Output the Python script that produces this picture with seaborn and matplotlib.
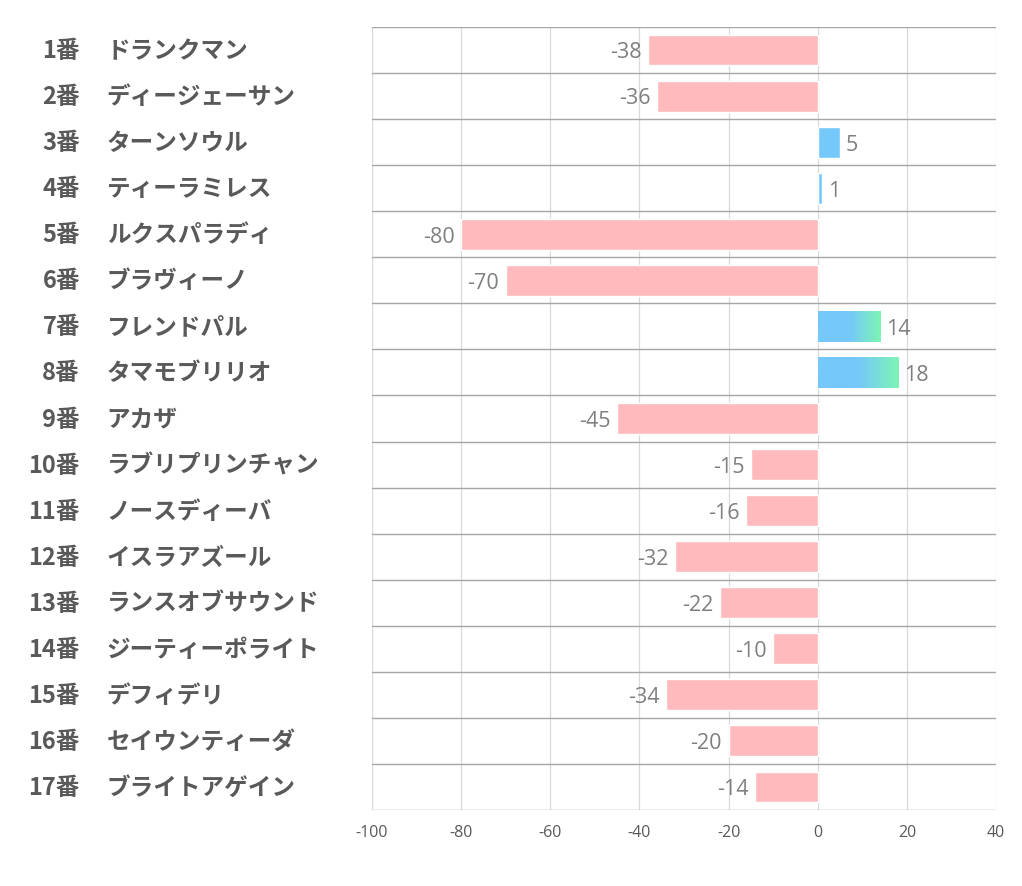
import matplotlib
matplotlib.use("Agg")
import matplotlib.pyplot as plt
import numpy as np
import pandas as pd
import seaborn as sns
from matplotlib.colors import LinearSegmentedColormap

numbers = [f"{i}番" for i in range(1, 18)]
names = [
    "ドランクマン", "ディージェーサン", "ターンソウル", "ティーラミレス",
    "ルクスパラディ", "ブラヴィーノ", "フレンドパル", "タマモブリリオ",
    "アカザ", "ラブリプリンチャン", "ノースディーバ", "イスラアズール",
    "ランスオブサウンド", "ジーティーポライト", "デフィデリ", "セイウンティーダ",
    "ブライトアゲイン",
]
values = [-38, -36, 5, 1, -80, -70, 14, 18, -45, -15, -16, -32, -22, -10, -34, -20, -14]
gradient_rows = [6, 7]  # 7番, 8番 drawn with blue->green fill
x_ticks = [-100, -80, -60, -40, -20, 0, 20, 40]

PINK = "#FFBABD"
BLUE = "#75C8FA"
GREEN = "#7DF5B4"
TEXT = "#595959"
VAL = "#7F7F7F"

sns.set_style("white")
plt.rcParams["font.family"] = ["Noto Sans CJK JP", "DejaVu Sans"]

df = pd.DataFrame({"label": numbers, "value": values})
colors = [BLUE if v > 0 else PINK for v in values]

fig = plt.figure(figsize=(10.22, 8.87), dpi=100)
ax = fig.add_axes([0.364, 0.0857, 0.6106, 0.8827])

sns.barplot(data=df, x="value", y="label", hue="label", palette=colors,
            legend=False, orient="h", width=0.67, saturation=1, ax=ax)

ax.set_xlim(-100, 40)
ax.set_ylim(len(values) - 0.5, -0.5)
ax.set_xticks(x_ticks)
ax.set_xticklabels([str(t) for t in x_ticks], color=TEXT, fontsize=11.5,
                   family=["Open Sans", "DejaVu Sans"])
ax.tick_params(axis="x", length=0, pad=10)
ax.set_yticks([])
ax.set_xlabel("")
ax.set_ylabel("")

for t in x_ticks:
    ax.axvline(t, color="#D9D9D9", lw=0.9, zorder=0)
for i in range(len(values) + 1):
    ax.axhline(i - 0.5, color="#A6A6A6", lw=1.0, zorder=0.5)
for s in ax.spines.values():
    s.set_visible(False)

# gradient fill for selected bars
cmap = LinearSegmentedColormap.from_list("bg", [BLUE, BLUE, GREEN], N=256)
grad = np.linspace(0, 1, 256).reshape(1, -1)
for idx in gradient_rows:
    patch = ax.patches[idx]
    x0, y0 = patch.get_x(), patch.get_y()
    w, h = patch.get_width(), patch.get_height()
    im = ax.imshow(grad, cmap=cmap, aspect="auto",
                   extent=[x0, x0 + w, y0 + h, y0], zorder=patch.get_zorder() + 0.1)
    im.set_clip_path(patch)
ax.set_xlim(-100, 40)
ax.set_ylim(len(values) - 0.5, -0.5)

for i, v in enumerate(values):
    if v < 0:
        ax.text(v - 1.5, i + 0.04, str(v), ha="right", va="center",
                color=VAL, fontsize=15.5, family=["Open Sans", "DejaVu Sans"])
    else:
        ax.text(v + 1.3, i + 0.04, str(v), ha="left", va="center",
                color=VAL, fontsize=15.5, family=["Open Sans", "DejaVu Sans"])

trans = ax.get_yaxis_transform()
for i, (n, name) in enumerate(zip(numbers, names)):
    ax.text(-0.468, i, n, transform=trans, ha="right", va="center",
            fontsize=17, fontweight="bold", color=TEXT)
    ax.text(-0.425, i, name, transform=trans, ha="left", va="center",
            fontsize=17, fontweight="bold", color=TEXT)

fig.savefig("out.png", dpi=100)
